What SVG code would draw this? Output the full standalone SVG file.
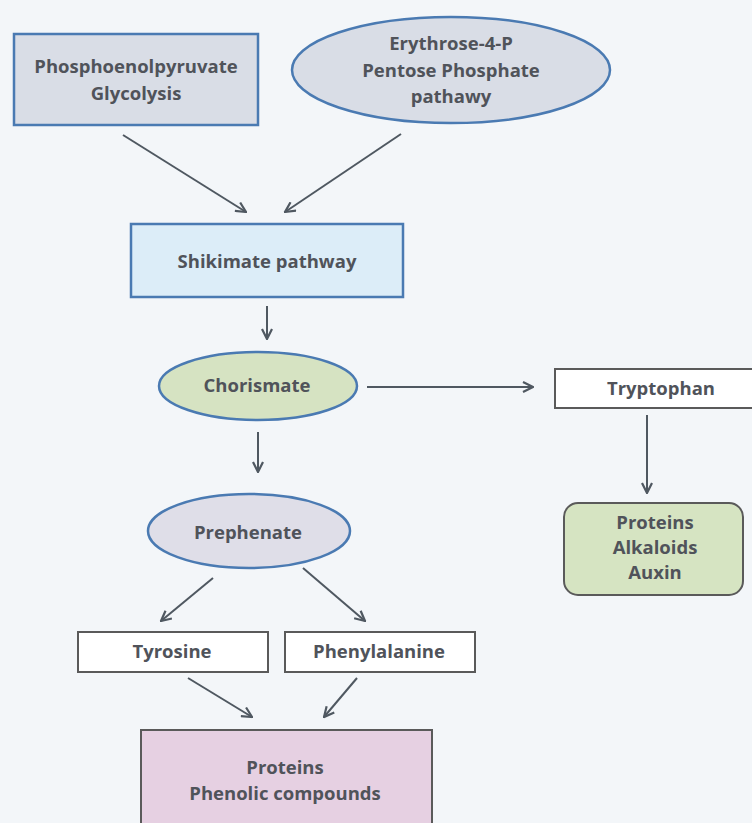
<svg xmlns="http://www.w3.org/2000/svg" width="752" height="823" viewBox="0 0 752 823">
<defs>
<marker id="ah" viewBox="0 0 12 12" refX="11" refY="6" markerWidth="12" markerHeight="12" markerUnits="userSpaceOnUse" orient="auto">
<path d="M1,1 L11,6 L1,11" fill="none" stroke="#4f5861" stroke-width="2.2"/>
</marker>
<style>
.t{font-family:"Open Sans","Liberation Sans",sans-serif;font-weight:bold;font-size:18.5px;fill:#50535a;text-anchor:middle}
.c line{stroke:#4f5861;stroke-width:2;marker-end:url(#ah)}
.wb{fill:#ffffff;stroke:#5a5a5a;stroke-width:2}
</style>
</defs>
<rect width="752" height="823" fill="#f3f6f9"/>
<g id="pep">
<rect x="14" y="34" width="244" height="91" fill="#d9dde6" stroke="#4a7ab2" stroke-width="2.5"/>
<text class="t" x="136" y="73">Phosphoenolpyruvate</text>
<text class="t" x="136" y="100">Glycolysis</text>
</g>
<g id="e4p">
<ellipse cx="451" cy="70" rx="159" ry="53" fill="#d9dde6" stroke="#4a7ab2" stroke-width="2.5"/>
<text class="t" x="451" y="50">Erythrose-4-P</text>
<text class="t" x="451" y="77">Pentose Phosphate</text>
<text class="t" x="451" y="103">pathawy</text>
</g>
<g id="shik">
<rect x="131" y="224" width="272" height="73" fill="#dcedf8" stroke="#4a7ab2" stroke-width="2.5"/>
<text class="t" x="267" y="268">Shikimate pathway</text>
</g>
<g id="chor">
<ellipse cx="258" cy="386" rx="99" ry="34" fill="#d6e3c2" stroke="#4a7ab2" stroke-width="2.5"/>
<text class="t" x="257" y="392">Chorismate</text>
</g>
<g id="tryp">
<rect class="wb" x="555" y="369" width="215" height="39"/>
<text class="t" x="661" y="395">Tryptophan</text>
</g>
<g id="pab">
<rect x="564" y="503" width="179" height="92" rx="14" fill="#d6e4c2" stroke="#5a5a5a" stroke-width="2"/>
<text class="t" x="655" y="529">Proteins</text>
<text class="t" x="655" y="554">Alkaloids</text>
<text class="t" x="655" y="579">Auxin</text>
</g>
<g id="preph">
<ellipse cx="249" cy="531" rx="101" ry="37" fill="#dfdee8" stroke="#4a7ab2" stroke-width="2.5"/>
<text class="t" x="248" y="539">Prephenate</text>
</g>
<g id="tyr">
<rect class="wb" x="78" y="632" width="190" height="40"/>
<text class="t" x="172" y="658">Tyrosine</text>
</g>
<g id="phe">
<rect class="wb" x="285" y="632" width="190" height="40"/>
<text class="t" x="379" y="658">Phenylalanine</text>
</g>
<g id="ppc">
<rect x="141" y="730" width="291" height="100" fill="#e6d0e2" stroke="#5a5a5a" stroke-width="2"/>
<text class="t" x="285" y="774">Proteins</text>
<text class="t" x="285" y="800">Phenolic compounds</text>
</g>
<g class="c" id="connectors">
<line x1="123" y1="135" x2="246" y2="212"/>
<line x1="401" y1="134" x2="285" y2="212"/>
<line x1="267" y1="306" x2="267" y2="339"/>
<line x1="367" y1="387" x2="533" y2="387"/>
<line x1="647" y1="415" x2="647" y2="493"/>
<line x1="258" y1="432" x2="258" y2="472"/>
<line x1="213" y1="578" x2="161" y2="621"/>
<line x1="303" y1="568" x2="365" y2="621"/>
<line x1="188" y1="678" x2="252" y2="717"/>
<line x1="357" y1="678" x2="324" y2="717"/>
</g>
</svg>
